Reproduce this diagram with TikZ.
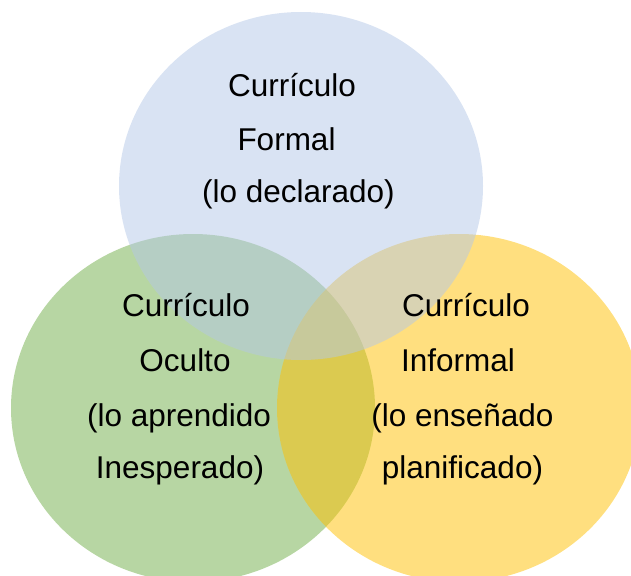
\documentclass[tikz,border=0pt]{standalone}
\usepackage{fontspec}
\setmainfont{Liberation Sans}
\usetikzlibrary{positioning}
\definecolor{CBlue}{HTML}{B4C7E7}
\definecolor{CGreen}{HTML}{70AD47}
\definecolor{CGold}{HTML}{FFC000}

\begin{document}
\begin{tikzpicture}[x=1pt, y=-1pt,
    set/.style={fill opacity=0.5},
    lbl/.style={anchor=base, inner sep=0pt, text=black, font=\fontsize{31.5}{38}\selectfont}]
    \useasboundingbox (0,0) rectangle (631,575);
    \clip (0,0) rectangle (631,575);

    % Sets (green, gold, then blue on top)
    \fill[set, CGreen] (193,408) ellipse [x radius=182, y radius=174];
    \fill[set, CGold] (459,408) ellipse [x radius=182, y radius=174];
    \fill[set, CBlue] (301,186) ellipse [x radius=182, y radius=174];

    % Formal
    \node[lbl] (formal1) at (292,96) {Currículo};
    \node[lbl] (formal2) at (286.5,150.5) {Formal};
    \node[lbl] (formal3) at (298.5,202) {(lo declarado)};

    % Oculto
    \node[lbl] (oculto1) at (186,316) {Currículo};
    \node[lbl] (oculto2) at (185,371.5) {Oculto};
    \node[lbl] (oculto3) at (179,426) {(lo aprendido};
    \node[lbl] (oculto4) at (180,478) {Inesperado)};

    % Informal
    \node[lbl] (informal1) at (466,316) {Currículo};
    \node[lbl] (informal2) at (458,371.5) {Informal};
    \node[lbl] (informal3) at (462.5,426) {(lo enseñado};
    \node[lbl] (informal4) at (462.5,478) {planificado)};
\end{tikzpicture}
\end{document}
